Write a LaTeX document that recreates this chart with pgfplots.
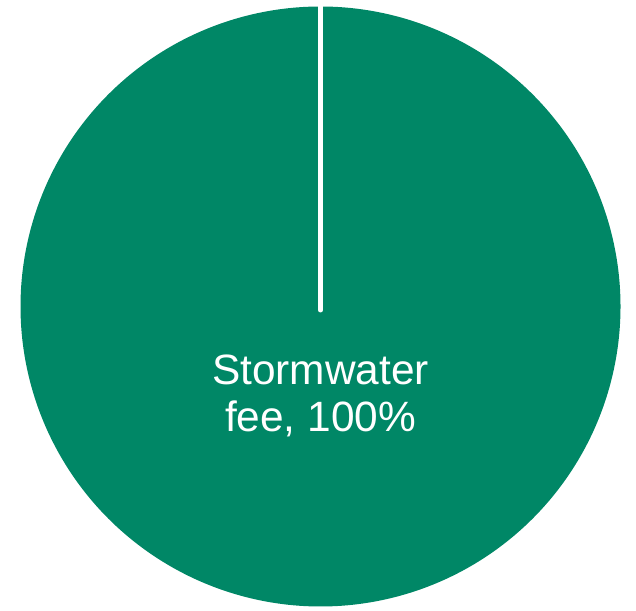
\documentclass[border=0pt]{standalone}
\usepackage{pgfplots}
\pgfplotsset{compat=1.18}
\usepackage{fontspec}
\setmainfont{Liberation Sans}
\definecolor{pie}{RGB}{0,135,102}
\pgfmathsetmacro{\share}{100}
\begin{document}
\begin{tikzpicture}
\begin{axis}[
  scale only axis, width=318bp, height=305.5bp,
  xmin=0, xmax=636, ymin=0, ymax=611,
  hide axis, clip=false,
]
\path (rel axis cs:0,0) rectangle (rel axis cs:1,1);
\addplot[fill=pie, draw=none, domain=0:3.6*\share, samples=361, smooth] ({320.5+300*sin(x)},{304.5+300*cos(x)}) -- (axis cs:320.5,304.5) -- cycle;
\addplot[white, line width=2.5bp, line cap=round] coordinates {(320.5,301) (320.5,605)};
\node[white, anchor=base, font=\fontsize{21.2bp}{25bp}\selectfont] at (axis cs:320.5,226) {Stormwater};
\node[white, anchor=base, font=\fontsize{21.2bp}{25bp}\selectfont] at (axis cs:320.5,179) {fee, 100\%};
\end{axis}
\end{tikzpicture}
\end{document}
